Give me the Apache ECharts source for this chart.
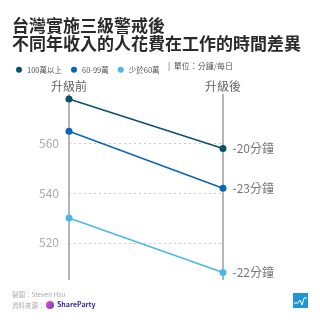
<!DOCTYPE html>
<html><head><meta charset="utf-8">
<script src="https://cdn.jsdelivr.net/npm/echarts@6/dist/echarts.min.js"></script>
<style>html,body{margin:0;padding:0;background:#fff}#c{width:320px;height:320px}</style>
</head><body><div id="c"></div>
<script>
const categories = ['升級前', '升級後'];
const seriesNames = ['100萬以上', '60-99萬', '少於60萬'];
const before = [578, 565, 530];
const after = [558, 542, 508];
const changeLabels = ['-20分鐘', '-23分鐘', '-22分鐘'];
const colors = ['#0b4f75', '#0a66b8', '#4bb8e6'];
const titleLines = ['台灣實施三級警戒後', '不同年收入的人花費在工作的時間差異'];

const chart = echarts.init(document.getElementById('c'), null, {renderer: 'canvas'});
const font = '"Noto Sans CJK TC", "Noto Sans", sans-serif';
const series = seriesNames.map((n, i) => ({
  name: n, type: 'line', data: [before[i], after[i]],
  symbol: 'circle', symbolSize: 7, color: colors[i],
  lineStyle: {width: 1.5, color: colors[i]},
  itemStyle: {color: colors[i]},
  label: {show: true, position: 'right', distance: 6, color: '#777', fontSize: 12, fontFamily: font,
    formatter: p => p.dataIndex === 1 ? changeLabels[i] : ''},
  emphasis: {disabled: true}, animation: false
}));
chart.setOption({
  animation: false,
  textStyle: {fontFamily: font},
  legend: {data: seriesNames, left: 11, top: 61, icon: 'circle', itemWidth: 6, itemHeight: 6, itemGap: 9,
    textStyle: {fontSize: 7.5, color: '#555', fontFamily: font}},
  grid: {left: 69, right: 97, top: 94, bottom: 40},
  xAxis: {type: 'category', data: categories, boundaryGap: false, position: 'top',
    axisLine: {show: false}, axisTick: {show: false},
    axisLabel: {color: '#666', fontSize: 12, margin: 2},
    splitLine: {show: true, lineStyle: {color: '#b5b5b5', width: 2}}},
  yAxis: {type: 'value', min: 505, max: 580,
    axisLine: {show: false}, axisTick: {show: false},
    axisLabel: {color: '#aaa', fontSize: 12, margin: 10, showMinLabel: false, showMaxLabel: false},
    splitLine: {show: true, showMinLine: false, showMaxLine: false, lineStyle: {color: '#ccc', type: [2, 3], width: 1}}},
  series: series,
  graphic: [
    {type: 'text', x: 12, y: 26, style: {text: titleLines[0], fontSize: 17, fontWeight: 'bold', fill: '#2a2a2a', fontFamily: font, verticalAlign: 'middle'}},
    {type: 'text', x: 12, y: 44, style: {text: titleLines[1], fontSize: 17, fontWeight: 'bold', fill: '#2a2a2a', fontFamily: font, verticalAlign: 'middle'}},
    {type: 'text', x: 168, y: 66, style: {text: '|  單位：分鐘/每日', fontSize: 8, fill: '#555', fontFamily: font, verticalAlign: 'middle'}},
    {type: 'text', left: 12, top: 291, style: {text: '製圖：Steven Hsu', fontSize: 6.5, fill: '#aaa', fontFamily: font}},
    {type: 'text', left: 12, top: 302, style: {text: '資料來源：', fontSize: 6.5, fill: '#aaa', fontFamily: font}},
    {type: 'circle', shape: {cx: 50, cy: 305, r: 4}, style: {fill: {type: 'linear', x: 0, y: 0, x2: 1, y2: 1,
      colorStops: [{offset: 0, color: '#ff4fa0'}, {offset: 1, color: '#5b3cf0'}]}}},
    {type: 'text', left: 57, top: 301, style: {text: 'ShareParty', fontSize: 7, fontWeight: 'bold', fill: '#3a2aa8', fontFamily: font}},
    {type: 'rect', shape: {x: 293, y: 293, width: 15, height: 15}, style: {fill: '#1e96d8'}},
    {type: 'polyline', shape: {points: [[294, 303], [298, 303], [300, 300], [302, 305], [304, 298], [307, 298]]},
      style: {stroke: '#fff', lineWidth: 1, fill: null}}
  ]
});
</script></body></html>
